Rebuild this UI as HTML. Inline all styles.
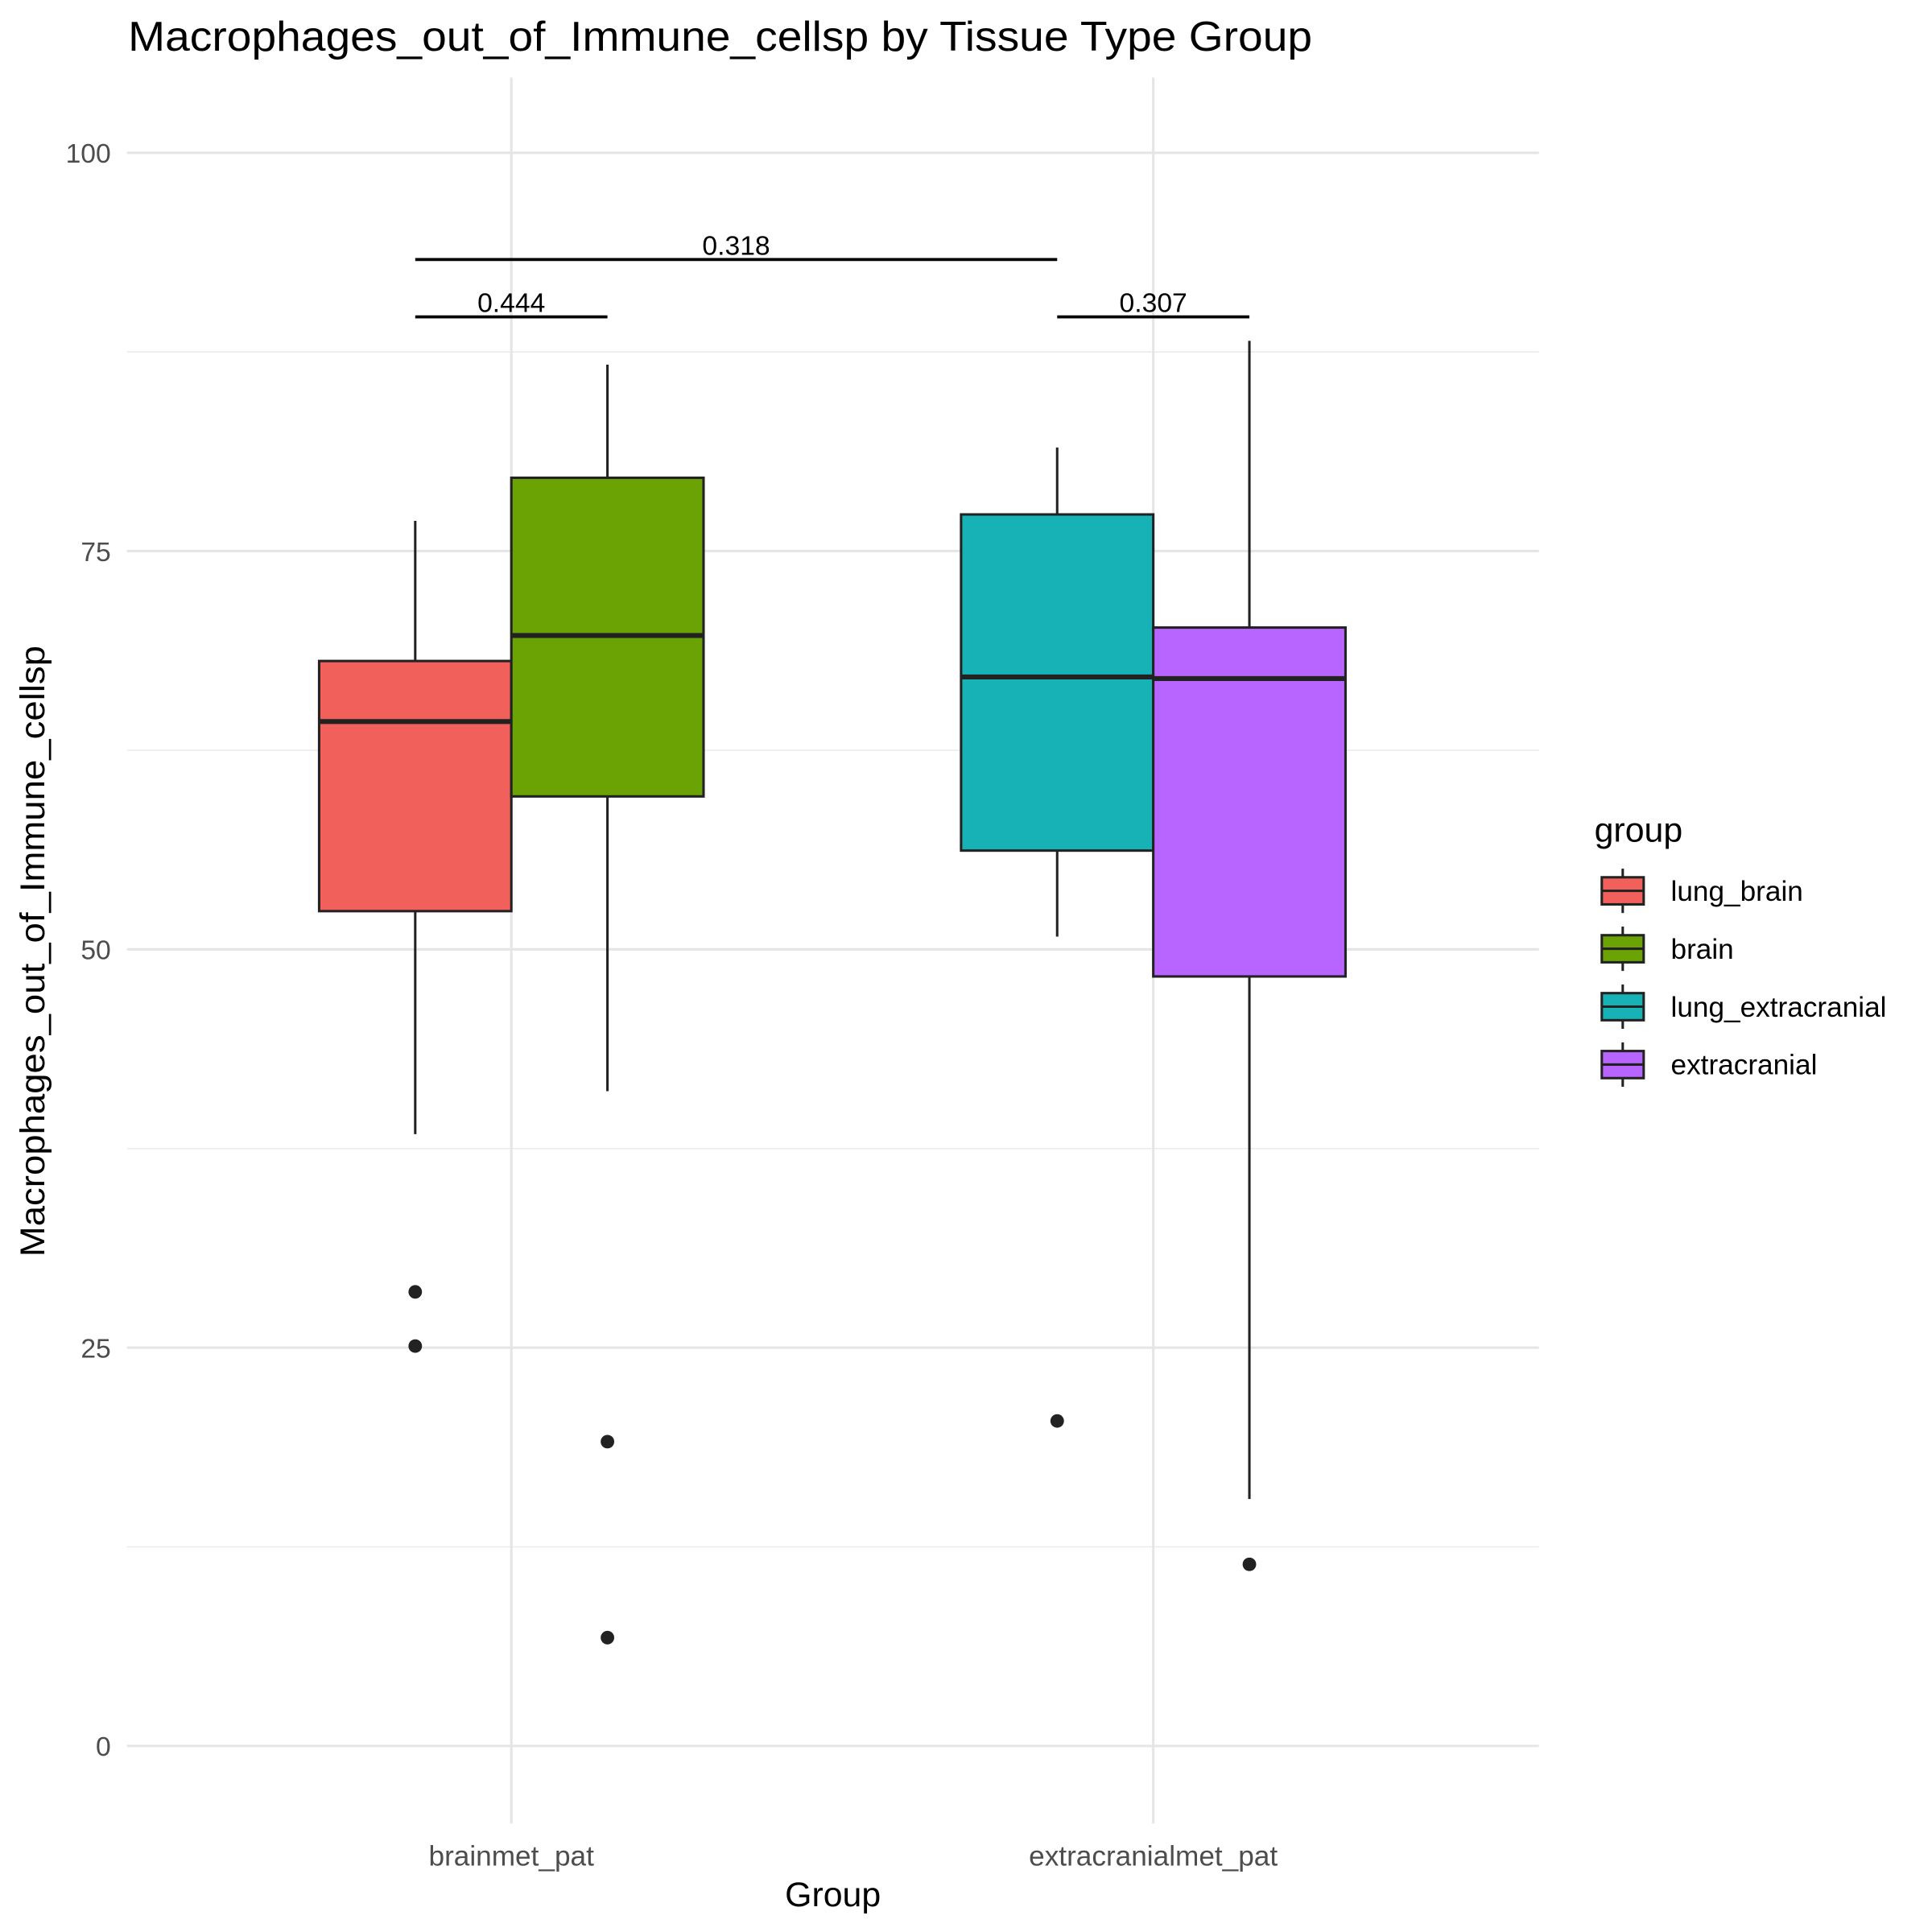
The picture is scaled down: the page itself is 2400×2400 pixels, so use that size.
<!DOCTYPE html>
<html><head><meta charset="utf-8"><style>
html,body{margin:0;padding:0;background:#fff}
svg{display:block;font-family:"Liberation Sans",Arial,sans-serif}
</style></head><body>
<svg id="chart" width="2400" height="2400" viewBox="0 0 1568 1568" xmlns="http://www.w3.org/2000/svg">
<rect width="1568" height="1568" fill="#fff"/>
<text x="104" y="41" font-size="34" textLength="961" lengthAdjust="spacingAndGlyphs" fill="#000">Macrophages_out_of_Immune_cellsp by Tissue Type Group</text>
<g id="grid"></g>
<g id="marks"></g>
<text x="676" y="1547" font-size="28" text-anchor="middle">Group</text>
<text transform="translate(36,772) rotate(-90)" font-size="28" text-anchor="middle" textLength="496" lengthAdjust="spacingAndGlyphs">Macrophages_out_of_Immune_cellsp</text>
<g id="legend"></g>
</svg>
<script>
const categories = ["brainmet_pat", "extracranialmet_pat"];
const groups = ["lung_brain", "brain", "lung_extracranial", "extracranial"];
const groupColors = ["#F2605C", "#6BA304", "#17B2B6", "#B865FF"];
const groupCategory = [0, 0, 1, 1];
const groupDodge = [-1, 1, -1, 1];
const whiskerLow = [38.4, 41.1, 50.8, 15.5];
const q1 = [52.4, 59.6, 56.2, 48.3];
const medians = [64.3, 69.7, 67.1, 67.0];
const q3 = [68.1, 79.6, 77.3, 70.2];
const whiskerHigh = [76.9, 86.7, 81.5, 88.2];
const outliers = [[28.5, 25.1], [19.1, 6.8], [20.4], [11.4]];
const yTicks = [0, 25, 50, 75, 100];
const yMinor = [12.5, 37.5, 62.5, 87.5];
const pLabels = ["0.318", "0.444", "0.307"];
const pFrom = [0, 0, 2];
const pTo = [2, 1, 3];
const pY = [93.3, 89.7, 89.7];

const NS = "http://www.w3.org/2000/svg";
const y = v => 1417 - v * 12.93;
const xCat = i => 415 + i * 521;
const half = 78;
const center = g => xCat(groupCategory[g]) + groupDodge[g] * half;
function el(tag, attrs, parent) {
  const e = document.createElementNS(NS, tag);
  for (const k in attrs) e.setAttribute(k, attrs[k]);
  parent.appendChild(e);
  return e;
}
const grid = document.getElementById("grid");
const marks = document.getElementById("marks");
const legend = document.getElementById("legend");

yMinor.forEach(v => {
  const l = el("line", {x1: 103, x2: 1249, y1: y(v), y2: y(v), stroke: "#ebebeb", "stroke-width": 1}, grid);
  
  
});
yTicks.forEach(v => {
  const l = el("line", {x1: 103, x2: 1249, y1: y(v), y2: y(v), stroke: "#e5e5e5", "stroke-width": 2}, grid);
  
  
  const t = el("text", {x: 90, y: y(v) + 8, "font-size": 22, fill: "#4d4d4d", "text-anchor": "end"}, grid);
  t.textContent = v;
  
  
});
categories.forEach((c, i) => {
  const l = el("line", {x1: xCat(i), x2: xCat(i), y1: 63, y2: 1480, stroke: "#e5e5e5", "stroke-width": 2}, grid);
  
  
  const t = el("text", {x: xCat(i), y: 1514, "font-size": 23, fill: "#4d4d4d", "text-anchor": "middle"}, grid);
  t.textContent = c;
  
  
});

groups.forEach((g, i) => {
  const cx = center(i);
  const wl = el("line", {x1: cx, x2: cx, y1: y(whiskerHigh[i]), y2: y(whiskerLow[i]), stroke: "#222", "stroke-width": 2}, marks);
  
  
  const r = el("rect", {x: cx - half, y: y(q3[i]), width: 2 * half, height: y(q1[i]) - y(q3[i]), fill: groupColors[i], stroke: "#222", "stroke-width": 2}, marks);
  
  
  const m = el("line", {x1: cx - half, x2: cx + half, y1: y(medians[i]), y2: y(medians[i]), stroke: "#222", "stroke-width": 4}, marks);
  
  
  outliers[i].forEach(v => {
    const c = el("circle", {cx: cx, cy: y(v), r: 5.5, fill: "#222"}, marks);
    
    
  });
});

pLabels.forEach((p, i) => {
  const x1 = center(pFrom[i]), x2 = center(pTo[i]);
  const l = el("line", {x1: x1, x2: x2, y1: y(pY[i]), y2: y(pY[i]), stroke: "#000", "stroke-width": 2.5}, marks);
  
  
  const t = el("text", {x: (x1 + x2) / 2, y: y(pY[i]) - 4, "font-size": 22, "text-anchor": "middle", fill: "#000"}, marks);
  t.textContent = p;
  
  
});

const lt = el("text", {x: 1294, y: 683, "font-size": 28, fill: "#000"}, legend);
lt.textContent = "group";


groups.forEach((g, i) => {
  const cy = 723 + i * 47;
  const wl = el("line", {x1: 1317, x2: 1317, y1: cy - 18, y2: cy + 18, stroke: "#222", "stroke-width": 2}, legend);
  
  
  const r = el("rect", {x: 1300, y: cy - 11, width: 34, height: 22, fill: groupColors[i], stroke: "#222", "stroke-width": 2}, legend);
  
  
  const m = el("line", {x1: 1300, x2: 1334, y1: cy, y2: cy, stroke: "#222", "stroke-width": 2}, legend);
  
  
  const t = el("text", {x: 1356, y: cy + 8, "font-size": 23, fill: "#000"}, legend);
  t.textContent = g;
  
  
});
</script>
</body></html>
